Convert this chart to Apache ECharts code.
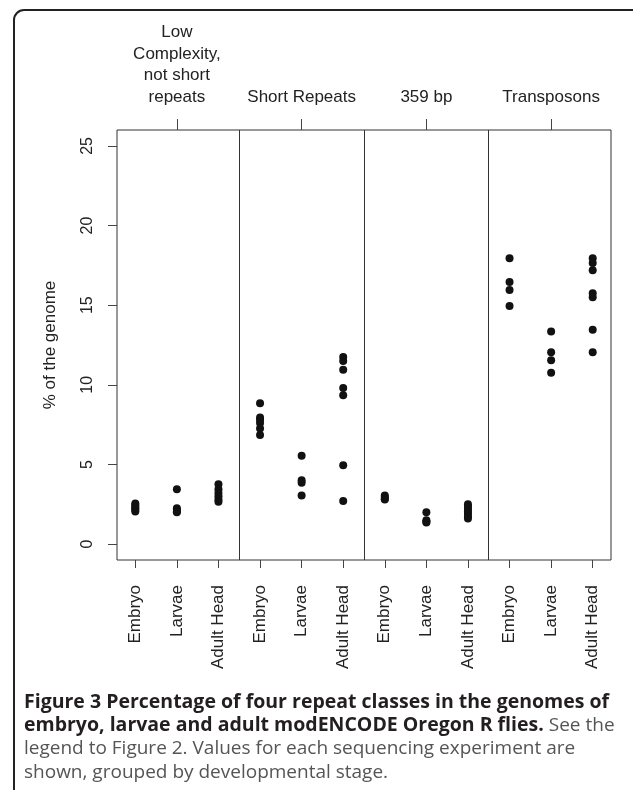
<!DOCTYPE html>
<html>
<head>
<meta charset="utf-8">
<script src="https://cdn.jsdelivr.net/npm/echarts@6/dist/echarts.min.js"></script>
<style>
  html, body { margin: 0; padding: 0; background: #fff; }
  #chart { width: 633px; height: 790px; }
</style>
</head>
<body>
<div id="chart"></div>
<script>
// categories along the x axis (three stages per repeat class)
const stages = ['Embryo', 'Larvae', 'Adult Head', 'Embryo', 'Larvae', 'Adult Head',
  'Embryo', 'Larvae', 'Adult Head', 'Embryo', 'Larvae', 'Adult Head']
const groups = ['Low\nComplexity,\nnot short\nrepeats', 'Short Repeats', '359 bp', 'Transposons']
const groupCenters = [2, 5, 8, 11]
const dividers = [3.5, 6.5, 9.5]
const yTicks = [0, 5, 10, 15, 20, 25]

// % of the genome, one list per category
const lowEmbryo = [2.05, 2.15, 2.25, 2.35, 2.45, 2.55]
const lowLarvae = [3.45, 2.25, 2.15, 2.05, 2.0]
const lowAdult = [3.75, 3.45, 3.2, 3.0, 2.8, 2.65]
const shortEmbryo = [8.85, 7.95, 7.8, 7.6, 7.25, 6.85]
const shortLarvae = [5.55, 4.0, 3.85, 3.05]
const shortAdult = [11.75, 11.5, 10.95, 9.8, 9.35, 4.95, 2.7]
const satEmbryo = [3.05, 2.95, 2.85, 2.8]
const satLarvae = [2.0, 1.5, 1.4, 1.35]
const satAdult = [2.5, 2.35, 2.2, 2.05, 1.9, 1.75, 1.6]
const teEmbryo = [17.95, 16.45, 15.95, 14.95]
const teLarvae = [13.35, 12.05, 11.55, 10.75]
const teAdult = [17.95, 17.65, 17.2, 15.75, 15.5, 13.45, 12.05]

const allValues = [lowEmbryo, lowLarvae, lowAdult, shortEmbryo, shortLarvae, shortAdult,
  satEmbryo, satLarvae, satAdult, teEmbryo, teLarvae, teAdult]

const points = []
allValues.forEach((vals, i) => {
  vals.forEach(v => points.push([i + 1, v]))
})

const chart = echarts.init(document.getElementById('chart'))
const font = 'Liberation Sans, Arial, sans-serif'
const capFont = '"Open Sans", "Noto Sans", sans-serif'
const tickColor = '#444'

const option = {
  backgroundColor: '#fff',
  animation: false,
  grid: {
    left: 117,
    right: 22,
    top: 130,
    bottom: 230,
    show: true,
    borderColor: '#333',
    borderWidth: 1
  },
  xAxis: [
    {
      type: 'value',
      min: 0.56,
      max: 12.44,
      position: 'bottom',
      axisLine: { show: false, onZero: false },
      splitLine: { show: false },
      axisTick: {
        show: true,
        length: 8,
        customValues: stages.map((s, i) => i + 1),
        lineStyle: { color: tickColor, width: 1 }
      },
      axisLabel: {
        customValues: stages.map((s, i) => i + 1),
        formatter: v => stages[Math.round(v) - 1],
        rotate: 90,
        margin: 25,
        fontFamily: font,
        fontSize: 17,
        color: '#222'
      }
    },
    {
      type: 'value',
      min: 0.56,
      max: 12.44,
      position: 'top',
      axisLine: { show: false, onZero: false },
      splitLine: { show: false },
      axisTick: {
        show: true,
        length: 11,
        customValues: groupCenters,
        lineStyle: { color: tickColor, width: 1 }
      },
      axisLabel: {
        customValues: groupCenters,
        formatter: v => groups[groupCenters.indexOf(Math.round(v))],
        margin: 22,
        lineHeight: 21.5,
        fontFamily: font,
        fontSize: 17,
        color: '#222'
      }
    }
  ],
  yAxis: {
    type: 'value',
    min: -1,
    max: 26,
    name: '% of the genome',
    nameLocation: 'middle',
    nameRotate: 90,
    nameGap: 58,
    nameTextStyle: { fontFamily: font, fontSize: 17, color: '#222' },
    axisLine: { show: false, onZero: false },
    splitLine: { show: false },
    axisTick: {
      show: true,
      length: 9,
      customValues: yTicks,
      lineStyle: { color: tickColor, width: 1 }
    },
    axisLabel: {
      customValues: yTicks,
      rotate: 90,
      margin: 21,
      fontFamily: font,
      fontSize: 16,
      color: '#222'
    }
  },
  series: [
    {
      type: 'scatter',
      data: points,
      symbol: 'circle',
      symbolSize: 8,
      itemStyle: { color: '#111', opacity: 1 },
      markLine: {
        silent: true,
        symbol: ['none', 'none'],
        label: { show: false },
        lineStyle: { color: '#333', width: 1, type: 'solid' },
        data: dividers.map(d => ({ xAxis: d }))
      }
    }
  ],
  graphic: [
    {
      type: 'rect',
      shape: { x: 14, y: 10, width: 650, height: 820, r: 10 },
      style: { fill: 'none', stroke: '#222', lineWidth: 2 },
      silent: true
    },
    {
      type: 'text',
      left: 24,
      top: 692,
      style: {
        text: '{b|Figure 3 Percentage of four repeat classes in the genomes of}\n' +
          '{b|embryo, larvae and adult modENCODE Oregon R flies.}{n| See the}\n' +
          '{n|legend to Figure 2. Values for each sequencing experiment are}\n' +
          '{n|shown, grouped by developmental stage.}',
        rich: {
          b: { fontFamily: capFont, fontWeight: 'bold', fontSize: 19.5, lineHeight: 23.5, fill: '#231f20' },
          n: { fontFamily: capFont, fontSize: 19, lineHeight: 23.5, fill: '#555' }
        }
      }
    }
  ]
}

chart.setOption(option)
</script>
</body>
</html>
